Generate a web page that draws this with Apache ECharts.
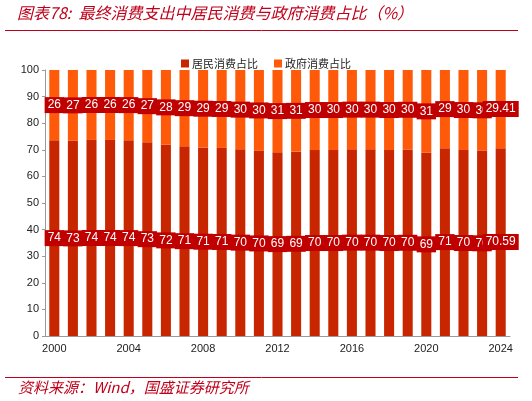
<!DOCTYPE html>
<html>
<head>
<meta charset="utf-8">
<script src="https://cdn.jsdelivr.net/npm/echarts@6/dist/echarts.min.js"></script>
<style>
html,body{margin:0;padding:0;background:#fff;}
#chart{width:532px;height:401px;}
</style>
</head>
<body>
<div id="chart"></div>
<script>
var years = ['2000','2001','2002','2003','2004','2005','2006','2007','2008','2009','2010','2011','2012','2013','2014','2015','2016','2017','2018','2019','2020','2021','2022','2023','2024'];
var residentShare = [73.6,73.4,73.7,73.7,73.6,72.8,71.9,71.3,70.9,70.7,70.2,69.6,69.1,69.3,69.9,69.9,70.2,70.2,69.9,70.1,68.9,70.6,69.9,69.7,70.59];
var governmentShare = [26.4,26.6,26.3,26.3,26.4,27.2,28.1,28.7,29.1,29.3,29.8,30.4,30.9,30.7,30.1,30.1,29.8,29.8,30.1,29.9,31.1,29.4,30.1,30.3,29.41];
var seriesNames = ['居民消费占比','政府消费占比'];
var yTicks = [0,10,20,30,40,50,60,70,80,90,100];

var lastIdx = years.length - 1;
function fmt(p){
  return p.dataIndex === lastIdx ? p.value.toFixed(2) : String(Math.round(p.value));
}
var labelStyle = {
  show: true,
  position: 'inside',
  formatter: fmt,
  color: '#fff',
  backgroundColor: '#c00000',
  padding: [2, 3],
  fontSize: 12,
  fontFamily: 'Liberation Sans, Arial, sans-serif'
};

var chart = echarts.init(document.getElementById('chart'));
chart.setOption({
  animation: false,
  backgroundColor: '#fff',
  textStyle: {fontFamily: 'Liberation Sans, Arial, sans-serif'},
  graphic: [
    {type:'text', left: 17, top: 5, style:{text:'图表78:  最终消费支出中居民消费与政府消费占比（%）', fill:'#c0001a', font:'italic 16px "Noto Sans CJK SC", sans-serif'}},
    {type:'line', shape:{x1:5, y1:30.5, x2:518, y2:30.5}, style:{stroke:'#c0001a', lineWidth:1}},
    {type:'line', shape:{x1:5, y1:377.5, x2:518, y2:377.5}, style:{stroke:'#c0001a', lineWidth:1}},
    {type:'text', left: 18, top: 380, style:{text:'资料来源：Wind，国盛证券研究所', fill:'#c0001a', font:'italic 15px "Noto Sans CJK SC", sans-serif'}}
  ],
  legend: {
    top: 53,
    left: 'center',
    itemWidth: 8,
    itemHeight: 8,
    itemGap: 16,
    icon: 'rect',
    textStyle: {fontSize: 11, color: '#222', fontFamily: '"Noto Sans CJK SC", sans-serif', padding:[0,0,0,-2]},
    data: seriesNames
  },
  grid: {left: 45, right: 22, top: 70, bottom: 65},
  xAxis: {
    type: 'category',
    data: years,
    boundaryGap: true,
    axisLine: {lineStyle: {color: '#999'}},
    axisTick: {interval: 3, length: 4, lineStyle: {color: '#999'}},
    axisLabel: {interval: 3, color: '#222', fontSize: 11, margin: 7}
  },
  yAxis: {
    type: 'value',
    min: yTicks[0],
    max: yTicks[yTicks.length-1],
    interval: 10,
    splitLine: {show: false},
    axisLine: {show: true, lineStyle: {color: '#999'}},
    axisTick: {show: true, length: 3, lineStyle: {color: '#999'}},
    axisLabel: {color: '#222', fontSize: 11, margin: 6}
  },
  series: [
    {name: seriesNames[0], type: 'bar', stack: 'total', data: residentShare, barWidth: '54%', itemStyle: {color: '#c82600'}, label: labelStyle},
    {name: seriesNames[1], type: 'bar', stack: 'total', data: governmentShare, barWidth: '54%', itemStyle: {color: '#ff5a0a'}, label: labelStyle}
  ]
});
</script>
</body>
</html>
